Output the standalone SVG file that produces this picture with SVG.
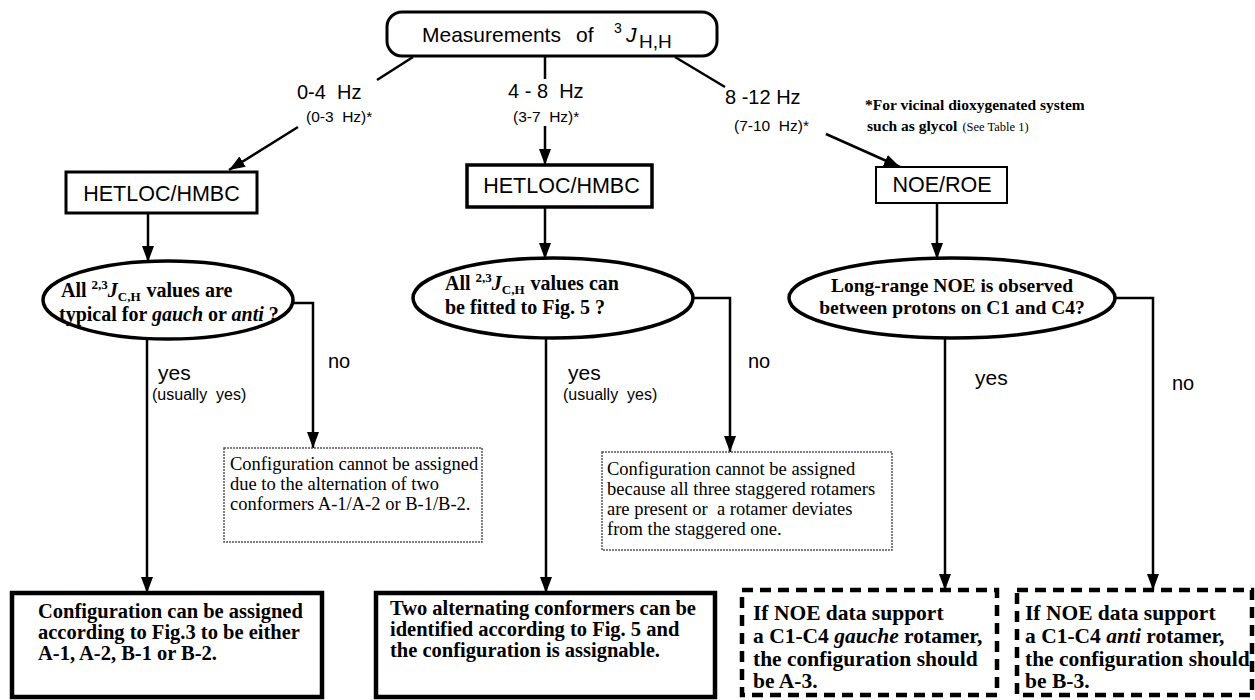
<svg xmlns="http://www.w3.org/2000/svg" width="1255" height="700" viewBox="0 0 1255 700">
<defs>
<marker id="ah" viewBox="0 0 16 12" refX="16" refY="6" markerWidth="16" markerHeight="12" markerUnits="userSpaceOnUse" orient="auto">
<path d="M0,0 L16,6 L0,12 z" fill="#000"/>
</marker>
<style>
.sans{font-family:"Liberation Sans",Arial,sans-serif;fill:#000}
.serif{font-family:"Liberation Serif","Times New Roman",serif;fill:#000}
.b{font-weight:bold}
.i{font-style:italic}
.conn line,.conn polyline{stroke:#000;stroke-width:2.5;fill:none}
.arr{marker-end:url(#ah)}
.box{fill:#fff;stroke:#000}
.dot{fill:#fff;stroke:#555;stroke-width:1.5;stroke-dasharray:2 1}
.dash{fill:none;stroke:#000;stroke-width:4.5;stroke-dasharray:11 7}
</style>
</defs>
<rect width="1255" height="700" fill="#fff"/>

<g class="conn">
<line x1="413" y1="57" x2="377" y2="80"/>
<line class="arr" x1="298" y1="127" x2="229" y2="170"/>
<line x1="545" y1="56" x2="545" y2="79"/>
<line class="arr" x1="545" y1="126" x2="545" y2="165"/>
<line x1="675" y1="57" x2="725" y2="87"/>
<line class="arr" x1="826" y1="134" x2="900" y2="167"/>
<line class="arr" x1="148" y1="213" x2="148" y2="262"/>
<line class="arr" x1="545" y1="207" x2="545" y2="259"/>
<line class="arr" x1="937" y1="203" x2="937" y2="259"/>
<line class="arr" x1="147" y1="339" x2="147" y2="593"/>
<polyline class="arr" points="292,303 313,303 313,448"/>
<line class="arr" x1="546" y1="338" x2="546" y2="593"/>
<polyline class="arr" points="692,298 730,298 730,452"/>
<line class="arr" x1="945" y1="338" x2="945" y2="590"/>
<polyline class="arr" points="1114,298 1153,298 1153,590"/>
</g>

<g id="labels">
<text class="sans" x="297" y="99" font-size="20" xml:space="preserve">0-4  Hz</text>
<text class="sans" x="306" y="122" font-size="15.5" xml:space="preserve">(0-3  Hz)*</text>
<text class="sans" x="508" y="98" font-size="20" xml:space="preserve">4 - 8  Hz</text>
<text class="sans" x="513" y="122" font-size="15.5" xml:space="preserve">(3-7  Hz)*</text>
<text class="sans" x="725" y="104" font-size="20" xml:space="preserve">8 -12 Hz</text>
<text class="sans" x="734" y="131" font-size="15.5" xml:space="preserve">(7-10  Hz)*</text>
<text class="serif b" x="865" y="110" font-size="15.5">*For vicinal dioxygenated system</text>
<text class="serif" x="867" y="131" font-size="15.5"><tspan class="b">such as glycol</tspan><tspan font-size="12.5" dx="5">(See Table 1)</tspan></text>
<text class="sans" x="158" y="380" font-size="21">yes</text>
<text class="sans" x="152" y="400" font-size="16" xml:space="preserve">(usually  yes)</text>
<text class="sans" x="328" y="368" font-size="20">no</text>
<text class="sans" x="568" y="380" font-size="21">yes</text>
<text class="sans" x="563" y="400" font-size="16" xml:space="preserve">(usually  yes)</text>
<text class="sans" x="748" y="368" font-size="20">no</text>
<text class="sans" x="975" y="385" font-size="21">yes</text>
<text class="sans" x="1172" y="390" font-size="20">no</text>
</g>

<g id="top">
<rect class="box" x="387" y="12" width="330" height="44" rx="15" stroke-width="3"/>
<text class="sans" x="422" y="42" font-size="21">Measurements</text>
<text class="sans" x="576" y="42" font-size="21">of</text>
<text class="sans" x="614" y="33" font-size="14">3</text>
<text class="sans i" x="626" y="42" font-size="21">J</text>
<text class="sans" x="639" y="48" font-size="19">H,H</text>
</g>

<g id="hetloc1">
<rect class="box" x="66" y="172" width="191" height="41" stroke-width="3"/>
<text class="sans" x="161.5" y="201" font-size="21.5" text-anchor="middle">HETLOC/HMBC</text>
</g>
<g id="hetloc2">
<rect class="box" x="467" y="165" width="185" height="42" stroke-width="3.5"/>
<text class="sans" x="561.5" y="193" font-size="21.5" text-anchor="middle">HETLOC/HMBC</text>
</g>
<g id="noe">
<rect class="box" x="876" y="167" width="131" height="36" stroke-width="2"/>
<text class="sans" x="942" y="192" font-size="21.5" text-anchor="middle">NOE/ROE</text>
</g>

<g id="q1">
<ellipse class="box" cx="168" cy="300" rx="125" ry="39" stroke-width="3.5"/>
<text class="serif b" x="61" y="297" font-size="20">All <tspan dy="-8" font-size="13">2,3</tspan><tspan dy="8" class="i">J</tspan><tspan dy="4" font-size="13">C,H</tspan><tspan dy="-4" dx="6">values are</tspan></text>
<text class="serif b" x="59" y="321" font-size="20">typical for <tspan class="i">gauch</tspan> or <tspan class="i">anti</tspan> ?</text>
</g>
<g id="q2">
<ellipse class="box" cx="553" cy="298" rx="140" ry="40" stroke-width="3.5"/>
<text class="serif b" x="445" y="290" font-size="20">All <tspan dy="-8" font-size="13">2,3</tspan><tspan dy="8" class="i">J</tspan><tspan dy="4" font-size="13">C,H</tspan><tspan dy="-4" dx="6">values can</tspan></text>
<text class="serif b" x="445" y="314" font-size="20">be fitted to Fig. 5 ?</text>
</g>
<g id="q3">
<ellipse class="box" cx="952" cy="298" rx="163" ry="40" stroke-width="3.5"/>
<text class="serif b" x="952" y="292" font-size="19.5" text-anchor="middle">Long-range NOE is observed</text>
<text class="serif b" x="952" y="314" font-size="19.5" text-anchor="middle">between protons on C1 and C4?</text>
</g>

<g id="no1">
<rect class="dot" x="224" y="448" width="258" height="94"/>
<text class="serif" font-size="18.5"><tspan x="230" y="470">Configuration cannot be assigned</tspan><tspan x="230" y="490">due to the alternation of two</tspan><tspan x="230" y="510">conformers A-1/A-2 or B-1/B-2.</tspan></text>
</g>
<g id="no2">
<rect class="dot" x="602" y="452" width="290" height="98"/>
<text class="serif" font-size="18.5"><tspan x="607" y="475">Configuration cannot be assigned</tspan><tspan x="607" y="495">because all three staggered rotamers</tspan><tspan x="607" y="515" xml:space="preserve">are present or  a rotamer deviates</tspan><tspan x="607" y="535">from the staggered one.</tspan></text>
</g>

<g id="res1">
<rect class="box" x="12" y="593" width="310" height="104" stroke-width="4.5"/>
<text class="serif b" font-size="20.5"><tspan x="38" y="618">Configuration can be assigned</tspan><tspan x="38" y="639">according to Fig.3 to be either</tspan><tspan x="38" y="660">A-1, A-2, B-1 or B-2.</tspan></text>
</g>
<g id="res2">
<rect class="box" x="376" y="593" width="339" height="104" stroke-width="4.5"/>
<text class="serif b" font-size="20.5"><tspan x="390" y="615">Two alternating conformers can be</tspan><tspan x="390" y="636">identified according to Fig. 5 and</tspan><tspan x="390" y="657">the configuration is assignable.</tspan></text>
</g>
<g id="res3">
<rect class="dash" x="742" y="590" width="255" height="105"/>
<text class="serif b" font-size="21.5"><tspan x="753" y="620">If NOE data support</tspan><tspan x="753" y="643">a C1-C4 <tspan class="i">gauche</tspan> rotamer,</tspan><tspan x="753" y="666">the configuration should</tspan><tspan x="753" y="688">be A-3.</tspan></text>
</g>
<g id="res4">
<rect class="dash" x="1017" y="590" width="235" height="105"/>
<text class="serif b" font-size="21.5"><tspan x="1025" y="620">If NOE data support</tspan><tspan x="1025" y="643">a C1-C4 <tspan class="i">anti</tspan> rotamer,</tspan><tspan x="1025" y="666">the configuration should</tspan><tspan x="1025" y="688">be B-3.</tspan></text>
</g>
</svg>
